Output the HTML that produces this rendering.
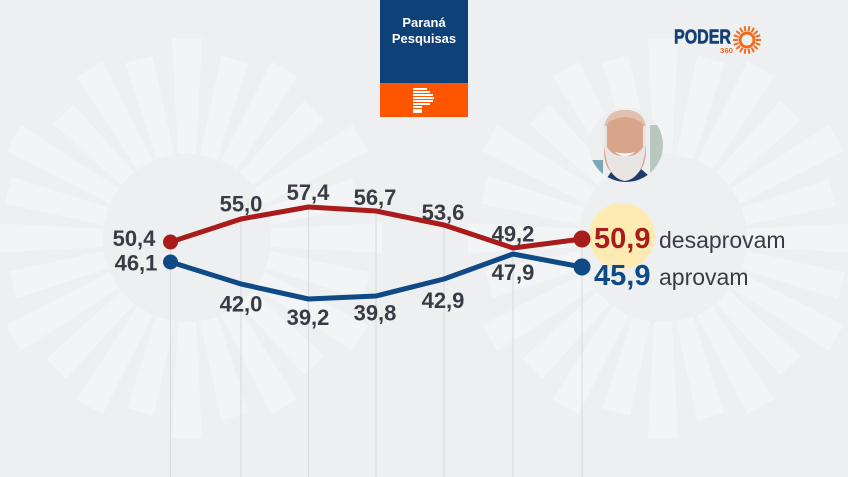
<!DOCTYPE html>
<html><head><meta charset="utf-8"><style>
html,body{margin:0;padding:0;background:#eeeff1;}
svg{display:block;}
text{font-family:"Liberation Sans",Arial,sans-serif;}
</style></head><body>
<svg width="848" height="477" viewBox="0 0 848 477" xmlns="http://www.w3.org/2000/svg">
<rect width="848" height="477" fill="#eeeff1"/>
<defs>
<g id="burst" fill="#f3f4f6">
<polygon points="-9,-84 9,-84 15,-200 -15,-200" transform="rotate(0)"/>
<polygon points="-9,-84 9,-84 14,-185 -14,-185" transform="rotate(15)"/>
<polygon points="-9,-84 9,-84 15,-195 -15,-195" transform="rotate(30)"/>
<polygon points="-9,-84 9,-84 14,-180 -14,-180" transform="rotate(45)"/>
<polygon points="-9,-84 9,-84 15,-200 -15,-200" transform="rotate(60)"/>
<polygon points="-9,-84 9,-84 14,-175 -14,-175" transform="rotate(75)"/>
<polygon points="-9,-84 9,-84 15,-195 -15,-195" transform="rotate(90)"/>
<polygon points="-9,-84 9,-84 14,-185 -14,-185" transform="rotate(105)"/>
<polygon points="-9,-84 9,-84 15,-200 -15,-200" transform="rotate(120)"/>
<polygon points="-9,-84 9,-84 14,-180 -14,-180" transform="rotate(135)"/>
<polygon points="-9,-84 9,-84 15,-195 -15,-195" transform="rotate(150)"/>
<polygon points="-9,-84 9,-84 14,-185 -14,-185" transform="rotate(165)"/>
<polygon points="-9,-84 9,-84 15,-200 -15,-200" transform="rotate(180)"/>
<polygon points="-9,-84 9,-84 14,-180 -14,-180" transform="rotate(195)"/>
<polygon points="-9,-84 9,-84 15,-195 -15,-195" transform="rotate(210)"/>
<polygon points="-9,-84 9,-84 14,-185 -14,-185" transform="rotate(225)"/>
<polygon points="-9,-84 9,-84 15,-200 -15,-200" transform="rotate(240)"/>
<polygon points="-9,-84 9,-84 14,-180 -14,-180" transform="rotate(255)"/>
<polygon points="-9,-84 9,-84 15,-195 -15,-195" transform="rotate(270)"/>
<polygon points="-9,-84 9,-84 14,-185 -14,-185" transform="rotate(285)"/>
<polygon points="-9,-84 9,-84 15,-200 -15,-200" transform="rotate(300)"/>
<polygon points="-9,-84 9,-84 14,-175 -14,-175" transform="rotate(315)"/>
<polygon points="-9,-84 9,-84 15,-195 -15,-195" transform="rotate(330)"/>
<polygon points="-9,-84 9,-84 14,-185 -14,-185" transform="rotate(345)"/>
</g>
<clipPath id="pc"><circle cx="626" cy="145" r="37"/></clipPath>
</defs>
<use href="#burst" transform="translate(187,238)"/>
<use href="#burst" transform="translate(663,238)"/>

<!-- grid lines -->
<g stroke="#d9dde2" stroke-width="1.2">
<line x1="170.5" y1="242" x2="170.5" y2="477"/>
<line x1="241" y1="219" x2="241" y2="477"/>
<line x1="308.5" y1="207" x2="308.5" y2="477"/>
<line x1="376" y1="211" x2="376" y2="477"/>
<line x1="444" y1="225" x2="444" y2="477"/>
<line x1="513" y1="248" x2="513" y2="477"/>
<line x1="582" y1="239" x2="582" y2="477"/>
</g>

<!-- Parana box -->
<rect x="380" y="0" width="88" height="83" fill="#0e4177"/>
<rect x="380" y="83" width="88" height="34" fill="#fe5500"/>
<text x="424" y="27" font-size="13" font-weight="bold" fill="#fff" text-anchor="middle">Paraná</text>
<text x="424" y="43" font-size="13" font-weight="bold" fill="#fff" text-anchor="middle">Pesquisas</text>
<g fill="#fff">
<rect x="413" y="88" width="14" height="2"/>
<rect x="413" y="91" width="17" height="2"/>
<rect x="413" y="94" width="20" height="2"/>
<rect x="413" y="97" width="21" height="2"/>
<rect x="413" y="100" width="20" height="2"/>
<rect x="413" y="103" width="17" height="2"/>
<rect x="413" y="106" width="9" height="2"/>
<rect x="413" y="109" width="9" height="2"/>
<rect x="413" y="111" width="9" height="2"/>
</g>

<!-- Poder360 logo -->
<text x="674" y="43.5" font-size="20" font-weight="bold" fill="#123f74" textLength="57" lengthAdjust="spacingAndGlyphs" stroke="#123f74" stroke-width="0.6">PODER</text>
<text x="720" y="53" font-size="7.5" font-weight="bold" fill="#f26a1b" textLength="13" lengthAdjust="spacingAndGlyphs">360</text>
<g transform="translate(747,40)" stroke="#f26a1b" stroke-width="2">
<circle r="7" fill="none" stroke-width="3"/>
<line x1="9" y1="0" x2="14" y2="0" transform="rotate(0)"/>
<line x1="9" y1="0" x2="14" y2="0" transform="rotate(20)"/>
<line x1="9" y1="0" x2="14" y2="0" transform="rotate(40)"/>
<line x1="9" y1="0" x2="14" y2="0" transform="rotate(60)"/>
<line x1="9" y1="0" x2="14" y2="0" transform="rotate(80)"/>
<line x1="9" y1="0" x2="14" y2="0" transform="rotate(100)"/>
<line x1="9" y1="0" x2="14" y2="0" transform="rotate(120)"/>
<line x1="9" y1="0" x2="14" y2="0" transform="rotate(140)"/>
<line x1="9" y1="0" x2="14" y2="0" transform="rotate(160)"/>
<line x1="9" y1="0" x2="14" y2="0" transform="rotate(180)"/>
<line x1="9" y1="0" x2="14" y2="0" transform="rotate(200)"/>
<line x1="9" y1="0" x2="14" y2="0" transform="rotate(220)"/>
<line x1="9" y1="0" x2="14" y2="0" transform="rotate(240)"/>
<line x1="9" y1="0" x2="14" y2="0" transform="rotate(260)"/>
<line x1="9" y1="0" x2="14" y2="0" transform="rotate(280)"/>
<line x1="9" y1="0" x2="14" y2="0" transform="rotate(300)"/>
<line x1="9" y1="0" x2="14" y2="0" transform="rotate(320)"/>
<line x1="9" y1="0" x2="14" y2="0" transform="rotate(340)"/>
</g>

<!-- photo -->
<g clip-path="url(#pc)">
<rect x="589" y="108" width="74" height="74" fill="#eceef0"/>
<rect x="650" y="125" width="13" height="57" fill="#b8c8bf"/>
<rect x="589" y="160" width="14" height="22" fill="#7fa6b8"/>
<path d="M604 182 L614 168 L640 168 L656 182 Z" fill="#1d3c6e"/>
<path d="M606 130 Q606 110 625 110 Q645 110 646 130 L646 150 Q646 176 625 178 Q604 176 604 150 Z" fill="#d9a48c"/>
<path d="M604 128 Q606 110 625 110 Q644 110 646 128 Q640 118 625 117 Q610 118 604 128 Z" fill="#e2c0ae"/>
<path d="M604 140 Q605 178 625 181 Q645 178 646 140 Q641 157 625 156 Q609 157 604 140 Z" fill="#e8e5e2"/>
<path d="M615 152 Q625 160 635 152 Q625 155 615 152 Z" fill="#ffffff"/>
<rect x="604" y="126" width="3" height="20" fill="#e8e5e2"/>
<rect x="643" y="126" width="3" height="20" fill="#e8e5e2"/>
</g>

<!-- highlight -->
<circle cx="622" cy="236" r="33" fill="#feebb2"/>

<!-- lines -->
<polyline points="170.5,242 241,219 308.5,207 376,211 444,225 513,248 582,239" fill="none" stroke="#aa1b1b" stroke-width="5" stroke-linejoin="round"/>
<polyline points="170.5,262 241,284 308.5,299 376,296 444,279 513,254 582,267" fill="none" stroke="#0f4a86" stroke-width="5" stroke-linejoin="round"/>
<circle cx="170.5" cy="242" r="7.5" fill="#aa1b1b"/>
<circle cx="170.5" cy="262" r="7.5" fill="#0f4a86"/>
<circle cx="582" cy="239" r="8.5" fill="#aa1b1b"/>
<circle cx="582" cy="267" r="8.5" fill="#0f4a86"/>

<!-- labels -->
<g font-size="22" font-weight="bold" fill="#383d45" text-anchor="middle">
<text x="134" y="246">50,4</text>
<text x="136" y="270.5">46,1</text>
<text x="241" y="211.5">55,0</text>
<text x="308" y="200">57,4</text>
<text x="375" y="205">56,7</text>
<text x="443" y="220">53,6</text>
<text x="513" y="241.5">49,2</text>
<text x="241" y="311.5">42,0</text>
<text x="308" y="325">39,2</text>
<text x="375" y="320.5">39,8</text>
<text x="443" y="308">42,9</text>
<text x="513" y="280">47,9</text>
</g>
<text x="594" y="248" font-size="29" font-weight="bold" fill="#aa1b1b">50,9</text>
<text x="594" y="285" font-size="29" font-weight="bold" fill="#0f4a86">45,9</text>
<text x="659" y="248" font-size="23" fill="#383d45">desaprovam</text>
<text x="659" y="285" font-size="23" fill="#383d45">aprovam</text>
</svg>
</body></html>
